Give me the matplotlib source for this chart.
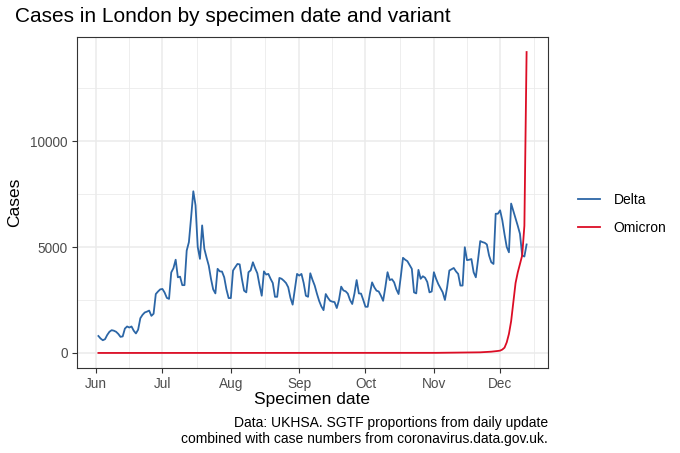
import matplotlib
matplotlib.use("Agg")
import matplotlib.pyplot as plt
import matplotlib.dates as mdates
import numpy as np
import pandas as pd

plt.rcParams['font.family'] = ['Liberation Sans', 'DejaVu Sans']

# daily cases by specimen date, 2 Jun - 13 Dec 2021
dates = pd.date_range("2021-06-02", "2021-12-13", freq="D")

delta = [
    800, 680, 600, 650, 850, 1000, 1075, 1050, 1000, 900, 760, 780, 1150, 1250,
    1200, 1250, 1050, 920, 1100, 1640, 1800, 1910, 1950, 2000, 1750, 1850, 2780, 2900,
    3000, 3020, 2850, 2600, 2550, 3800, 4000, 4400, 3570, 3600, 3200, 3200, 4830, 5230,
    6400, 7630, 6970, 5000, 4440, 6020, 4910, 4500, 4120, 3500, 3000, 2810, 3970, 3850,
    3840, 3570, 3000, 2590, 2590, 3890, 4050, 4200, 4180, 3500, 2940, 2860, 3810, 3900,
    4280, 4000, 3760, 3200, 2700, 3850, 3700, 3730, 3500, 3300, 2650, 2650, 3540, 3500,
    3410, 3300, 3100, 2600, 2280, 3000, 3730, 3650, 3730, 3300, 2700, 2650, 3760, 3450,
    3180, 2800, 2460, 2200, 2020, 2780, 2600, 2460, 2420, 2400, 2120, 2500, 3130, 2950,
    2910, 2800, 2500, 2310, 2800, 3440, 2810, 2800, 2500, 2180, 2180, 2800, 3330, 3100,
    2940, 2900, 2700, 2460, 3100, 3810, 3440, 3480, 3330, 3000, 2780, 3600, 4490, 4400,
    4330, 4150, 3970, 2860, 2810, 3920, 3500, 3620, 3550, 3350, 2860, 2900, 3810, 3500,
    3250, 3050, 2860, 2500, 3100, 3890, 3950, 4010, 3850, 3730, 3180, 3180, 4990, 4380,
    4400, 4430, 3810, 3570, 4400, 5280, 5230, 5200, 5120, 4600, 4280, 4200, 6570, 6570,
    6730, 6260, 5600, 5000, 4750, 7050, 6700, 6340, 6000, 5620, 4600, 4550, 5120,
]

omicron = [
    0, 0, 0, 0, 0, 0, 0, 0, 0, 0, 0, 0,
    0, 0, 0, 0, 0, 0, 0, 0, 0, 0, 0, 0, 0, 0,
    0, 0, 0, 0, 0, 0, 0, 0, 0, 0, 0, 0, 0, 0,
    0, 0, 0, 0, 0, 0, 0, 0, 0, 0, 0, 0, 0, 0,
    0, 0, 0, 0, 0, 0, 0, 0, 0, 0, 0, 0, 0, 0,
    0, 0, 0, 0, 0, 0, 0, 0, 0, 0, 0, 0, 0, 0,
    0, 0, 0, 0, 0, 0, 0, 0, 0, 0, 0, 0, 0, 0,
    0, 0, 0, 0, 0, 0, 0, 0, 0, 0, 0, 0, 0, 0,
    0, 0, 0, 0, 0, 0, 0, 0, 0, 0, 0, 0, 0, 0,
    0, 0, 0, 0, 0, 0, 0, 0, 0, 0, 0, 0, 0, 0,
    1, 1, 1, 1, 2, 2, 2, 2, 3, 3, 3, 4, 4, 5,
    5, 5, 6, 6, 7, 7, 8, 8, 9, 10, 11, 12, 13, 14,
    15, 16, 18, 20, 22, 25, 28, 30, 35, 40, 45, 50, 60, 70,
    80, 95, 110, 160, 250, 500, 900, 1500, 2400, 3300, 3800, 4200, 4600, 6000,
    14200,
]

variants = ["Delta", "Omicron"]
colours = ["#2c66a6", "#dc0d25"]

fig = plt.figure(figsize=(6.8, 4.53), dpi=100)
ax = fig.add_axes([77/680, 1 - 368/453, (548 - 77)/680, (368 - 37)/453])

for name, vals, col in zip(variants, [delta, omicron], colours):
    ax.plot(dates, vals, color=col, lw=1.3, label=name, zorder=3)

# ggplot style 5% expansion
x0 = mdates.date2num(dates[0]); x1 = mdates.date2num(dates[-1])
pad = (x1 - x0) * 0.05
ax.set_xlim(x0 - pad, x1 + pad)
ymax = max(max(delta), max(omicron))
ax.set_ylim(-ymax * 0.05, ymax * 1.05)

months = pd.date_range("2021-06-01", "2021-12-01", freq="MS")
ax.set_xticks(mdates.date2num(months))
ax.set_xticklabels([m.strftime("%b") for m in months])
mids = pd.date_range("2021-06-01", "2022-01-01", freq="MS")
mid_nums = mdates.date2num(mids)
ax.set_xticks((mid_nums[:-1] + mid_nums[1:]) / 2, minor=True)
ax.set_yticks([0, 5000, 10000])
ax.set_yticklabels(["0", "5000", "10000"])
ax.set_yticks([2500, 7500, 12500], minor=True)

ax.grid(which="major", color="#ebebeb", lw=1.1, zorder=0)
ax.grid(which="minor", color="#ebebeb", lw=0.6, zorder=0)
ax.tick_params(which="major", length=3.5, width=0.8, color="#333333",
               labelsize=9.8, labelcolor="#4d4d4d", pad=3)
ax.tick_params(which="minor", length=0)
for s in ax.spines.values():
    s.set_color("#333333")
    s.set_linewidth(0.8)

ax.set_xlabel("Specimen date", fontsize=12.5, labelpad=1)
ax.set_ylabel("Cases", fontsize=12.5, labelpad=6)
fig.text(15/680, 1 - 17/453, "Cases in London by specimen date and variant",
         fontsize=15, ha="left", va="center")
fig.text(548/680, 1 - 431/453,
         "Data: UKHSA. SGTF proportions from daily update\ncombined with case numbers from coronavirus.data.gov.uk.",
         fontsize=10, ha="right", va="center", linespacing=1.1)

ax.legend(loc="center left", bbox_to_anchor=(565/680, 1 - 214/453),
          bbox_transform=fig.transFigure, frameon=False, fontsize=10,
          handlelength=1.6, handletextpad=1.0, labelspacing=1.0)

fig.savefig("out.png", dpi=100)
